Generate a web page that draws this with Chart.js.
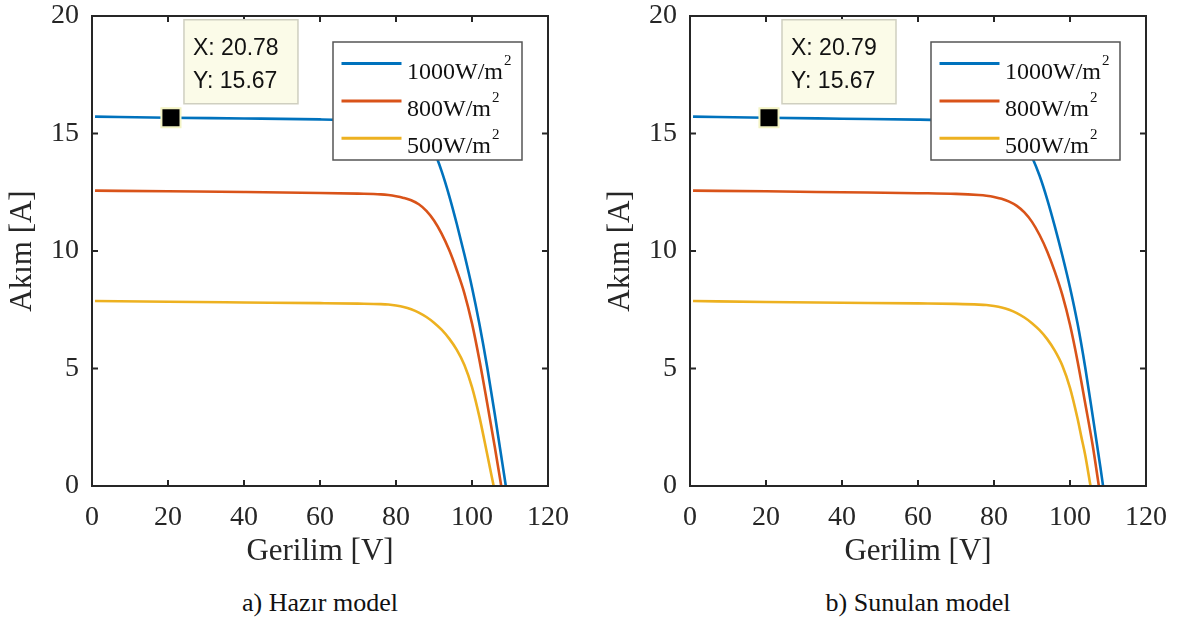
<!DOCTYPE html>
<html>
<head>
<meta charset="utf-8">
<script src="https://cdn.jsdelivr.net/npm/chart.js@4.4.1/dist/chart.umd.min.js"></script>
<style>
  html, body { margin: 0; padding: 0; background: #fff; overflow: hidden; }
  body { width: 1177px; height: 624px; position: relative; }
  .box { position: absolute; top: 0; }
  .cap { position: absolute; top: 588px; width: 320px; text-align: center;
         font-family: "Liberation Serif", serif; font-size: 26px; line-height: 30px; color: #111; }
</style>
</head>
<body>
<div class="box" style="left:0px"><canvas id="hazir" width="590" height="570"></canvas></div>
<div class="box" style="left:598px"><canvas id="sunulan" width="579" height="570"></canvas></div>
<div class="cap" style="left:160px">a) Hazır model</div>
<div class="cap" style="left:758px">b) Sunulan model</div>
<script>
// irradiance levels (legend)
const seriesLabels = ['1000W/m²', '800W/m²', '500W/m²'];
const seriesColors = ['#0072BD', '#D95319', '#EDB120'];

// a) Hazir model, voltage [V] / current [A]
const hazirV1000 = [0.8, 20, 40, 60, 70, 76, 78, 80, 82, 84, 86, 88, 90, 92, 94, 96, 98, 100, 102, 104, 106, 108, 108.9];
const hazirI1000 = [15.72, 15.67, 15.64, 15.60, 15.56, 15.51, 15.48, 15.43, 15.36, 15.25, 15.10, 14.75, 14.25, 13.40, 12.35, 11.15, 9.85, 8.45, 6.85, 5.05, 3.05, 0.95, 0];
const hazirV800 = [0.8, 20, 40, 60, 70, 76, 78, 80, 82, 84, 86, 88, 90, 92, 94, 96, 98, 100, 102, 104, 106, 107.7];
const hazirI800 = [12.57, 12.54, 12.51, 12.47, 12.44, 12.41, 12.38, 12.33, 12.26, 12.16, 11.99, 11.71, 11.30, 10.74, 10.04, 9.18, 8.20, 6.92, 5.32, 3.52, 1.66, 0];
const hazirV500 = [0.8, 20, 40, 60, 70, 76, 78, 80, 82, 84, 86, 88, 90, 92, 94, 96, 98, 100, 102, 104, 105.7];
const hazirI500 = [7.87, 7.84, 7.81, 7.78, 7.76, 7.74, 7.72, 7.68, 7.62, 7.52, 7.38, 7.19, 6.95, 6.65, 6.27, 5.79, 5.15, 4.21, 2.91, 1.35, 0];
const hazirTip = [20.78, 15.67];

// b) Sunulan model
const sunV1000 = [0.8, 20, 40, 60, 70, 76, 78, 80, 82, 84, 86, 88, 90, 92, 94, 96, 98, 100, 102, 104, 106, 108, 108.7];
const sunI1000 = [15.72, 15.67, 15.63, 15.59, 15.55, 15.50, 15.47, 15.42, 15.34, 15.22, 15.05, 14.65, 14.00, 13.20, 12.20, 11.05, 9.80, 8.45, 6.90, 5.05, 2.95, 0.80, 0];
const sunV800 = [0.8, 20, 40, 60, 70, 76, 78, 80, 82, 84, 86, 88, 90, 92, 94, 96, 98, 100, 102, 104, 106, 107.6];
const sunI800 = [12.57, 12.54, 12.50, 12.46, 12.43, 12.38, 12.35, 12.30, 12.22, 12.10, 11.92, 11.64, 11.24, 10.68, 9.98, 9.12, 8.12, 6.86, 5.30, 3.52, 1.70, 0];
const sunV500 = [0.8, 20, 40, 60, 70, 76, 78, 80, 82, 84, 86, 88, 90, 92, 94, 96, 98, 100, 102, 103, 104, 105.4];
const sunI500 = [7.87, 7.83, 7.80, 7.77, 7.75, 7.72, 7.70, 7.66, 7.60, 7.50, 7.36, 7.17, 6.93, 6.63, 6.25, 5.76, 5.12, 4.18, 2.86, 2.08, 1.32, 0];
const sunTip = [20.79, 15.67];

const xTicksStep = 20, yTicksStep = 5;
const serif = 'Liberation Serif';
const axisColor = '#262626';

function pts(vs, is) {
  return vs.map((v, i) => ({x: v, y: is[i]}));
}

// box, inner ticks, legend and datatip, drawn on top of the lines
const decor = {
  id: 'decor',
  afterDatasetsDraw(chart) {
    const {ctx, chartArea: a, scales: {x, y}} = chart;
    ctx.save();
    ctx.strokeStyle = axisColor;
    ctx.lineWidth = 2;
    ctx.strokeRect(a.left, a.top, a.right - a.left, a.bottom - a.top);
    ctx.beginPath();
    x.ticks.forEach(t => {
      const p = x.getPixelForValue(t.value);
      ctx.moveTo(p, a.bottom); ctx.lineTo(p, a.bottom - 6);
      ctx.moveTo(p, a.top); ctx.lineTo(p, a.top + 6);
    });
    y.ticks.forEach(t => {
      const p = y.getPixelForValue(t.value);
      ctx.moveTo(a.left, p); ctx.lineTo(a.left + 6, p);
      ctx.moveTo(a.right, p); ctx.lineTo(a.right - 6, p);
    });
    ctx.stroke();

    // legend
    const lx = a.left + 241, ly = a.top + 26;
    ctx.fillStyle = '#fff';
    ctx.fillRect(lx, ly, 189, 118);
    ctx.strokeStyle = '#555';
    ctx.lineWidth = 1.5;
    ctx.strokeRect(lx, ly, 189, 118);
    chart.data.datasets.slice(0, 3).forEach((ds, i) => {
      const ry = ly + 21.6 + i * 37.3;
      ctx.strokeStyle = ds.borderColor;
      ctx.lineWidth = 3;
      ctx.beginPath();
      ctx.moveTo(lx + 8.5, ry); ctx.lineTo(lx + 68.5, ry);
      ctx.stroke();
      const base = ds.label.replace('²', '');
      ctx.fillStyle = '#111';
      ctx.font = '24px "' + serif + '"';
      ctx.textBaseline = 'alphabetic';
      ctx.textAlign = 'left';
      ctx.fillText(base, lx + 74, ry + 15);
      const w = ctx.measureText(base).width;
      ctx.font = '15px "' + serif + '"';
      ctx.fillText('2', lx + 75 + w, ry + 1);
    });

    // datatip
    const tip = chart.data.datasets[3].data[0];
    const px = x.getPixelForValue(tip.x), py = y.getPixelForValue(tip.y);
    const bx = px + 13, by = py - 98;
    ctx.fillStyle = '#fbfbe8';
    ctx.fillRect(bx, by, 114, 84);
    ctx.strokeStyle = '#cfcfc0';
    ctx.lineWidth = 1.5;
    ctx.strokeRect(bx, by, 114, 84);
    ctx.fillStyle = '#111';
    ctx.font = '23px "Liberation Sans"';
    ctx.fillText('X: ' + tip.x.toFixed(2), bx + 9, by + 35);
    ctx.fillText('Y: ' + tip.y.toFixed(2), bx + 9, by + 68);
    ctx.restore();
  }
};

function makeChart(id, v1000, i1000, v800, i800, v500, i500, tip, padRight) {
  const series = [[v1000, i1000], [v800, i800], [v500, i500]];
  const datasets = series.map((s, k) => ({
    label: seriesLabels[k],
    data: pts(s[0], s[1]),
    borderColor: seriesColors[k],
    borderWidth: 2.6,
    pointRadius: 0,
    fill: false,
    cubicInterpolationMode: 'monotone'
  }));
  datasets.push({
    label: 'tip',
    data: [{x: tip[0], y: tip[1]}],
    showLine: false,
    pointStyle: 'rect',
    pointRadius: 13.5,
    backgroundColor: '#000',
    borderColor: '#f3f3c4',
    borderWidth: 2,
    order: -1
  });
  return new Chart(document.getElementById(id), {
    type: 'line',
    data: {datasets},
    options: {
      responsive: false,
      animation: false,
      events: [],
      layout: {padding: {left: 0, right: padRight, top: 16, bottom: 0}},
      plugins: {legend: {display: false}, tooltip: {enabled: false}},
      scales: {
        x: {
          type: 'linear', min: 0, max: 120,
          ticks: {stepSize: xTicksStep, padding: 15, color: axisColor, font: {family: serif, size: 28}},
          grid: {display: false, drawTicks: false},
          border: {display: false},
          title: {display: true, text: 'Gerilim [V]', color: axisColor,
                  font: {family: serif, size: 31}, padding: {top: 0, bottom: 0}},
          afterFit: s => { s.height = 84; s.paddingLeft = 0; s.paddingRight = 0; }
        },
        y: {
          type: 'linear', min: 0, max: 20,
          ticks: {stepSize: yTicksStep, padding: 13, color: axisColor, font: {family: serif, size: 28}},
          grid: {display: false, drawTicks: false},
          border: {display: false},
          title: {display: true, text: 'Akım [A]', color: axisColor,
                  font: {family: serif, size: 31}, padding: {top: 4, bottom: 0}},
          afterFit: s => { s.width = 92; s.paddingTop = 0; s.paddingBottom = 0; }
        }
      }
    },
    plugins: [decor]
  });
}

makeChart('hazir', hazirV1000, hazirI1000, hazirV800, hazirI800, hazirV500, hazirI500, hazirTip, 42);
makeChart('sunulan', sunV1000, sunI1000, sunV800, sunI800, sunV500, sunI500, sunTip, 31);
</script>
</body>
</html>
